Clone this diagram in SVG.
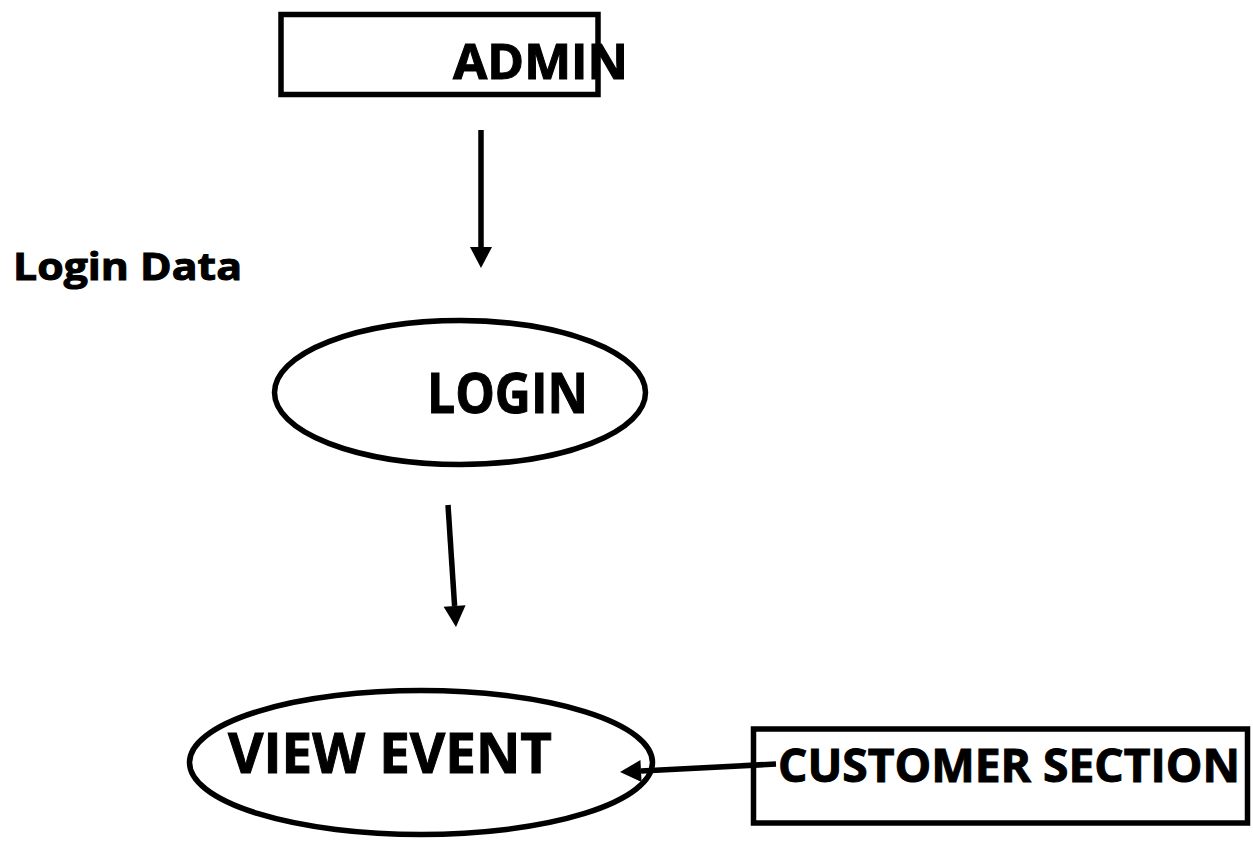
<svg xmlns="http://www.w3.org/2000/svg" width="1253" height="844" viewBox="0 0 1253 844">
  <style>
    .shape { fill: none; stroke: #000; stroke-width: 5.5; }
    .label { font-family: "Open Sans", "Liberation Sans", sans-serif; font-weight: bold; fill: #000; stroke: #000; stroke-width: 1; }
    .flow { stroke: #000; stroke-width: 5.5; fill: none; marker-end: url(#head); }
  </style>
  <defs>
    <marker id="head" markerUnits="userSpaceOnUse" markerWidth="22" markerHeight="22" refX="0" refY="11" orient="auto" overflow="visible">
      <path d="M0,0 L21,11 L0,22 z" fill="#000"/>
    </marker>
  </defs>
  <rect width="1253" height="844" fill="#fff"/>

  <g id="admin">
    <rect class="shape" x="281" y="14.5" width="317" height="80"/>
    <text class="label" x="453" y="79" font-size="48" textLength="175" lengthAdjust="spacingAndGlyphs">ADMIN</text>
  </g>

  <g id="login-data">
    <text class="label" x="13" y="280" font-size="38" textLength="229" lengthAdjust="spacingAndGlyphs">Login Data</text>
  </g>

  <g id="login">
    <ellipse class="shape" cx="460" cy="392.5" rx="185.5" ry="72"/>
    <text class="label" x="427" y="413" font-size="56" textLength="161" lengthAdjust="spacingAndGlyphs">LOGIN</text>
  </g>

  <g id="view-event">
    <ellipse class="shape" cx="421" cy="762.5" rx="231.5" ry="72"/>
    <text class="label" x="228" y="773" font-size="56" textLength="324" lengthAdjust="spacingAndGlyphs">VIEW EVENT</text>
  </g>

  <g id="customer-section">
    <rect class="shape" x="753.5" y="729" width="494" height="94"/>
    <text class="label" x="778" y="782" font-size="46" textLength="462" lengthAdjust="spacingAndGlyphs">CUSTOMER SECTION</text>
  </g>

  <g id="connectors">
    <line class="flow" x1="481" y1="130" x2="481" y2="247"/>
    <line class="flow" x1="448" y1="505" x2="454.6" y2="606"/>
    <line class="flow" x1="776" y1="764" x2="641" y2="771"/>
  </g>
</svg>
